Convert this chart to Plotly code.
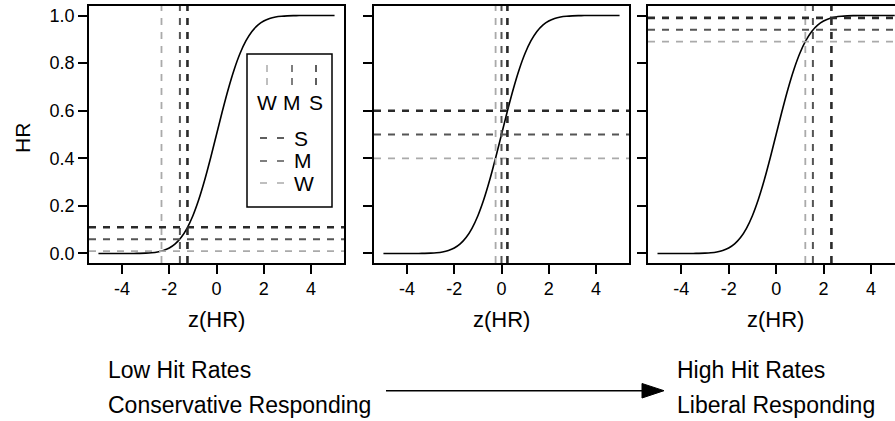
import plotly.graph_objects as go

# ---------------- data ----------------
z_grid = [-5, -4.75, -4.5, -4.25, -4, -3.75, -3.5, -3.25, -3, -2.75, -2.5, -2.25,
          -2, -1.75, -1.5, -1.25, -1, -0.75, -0.5, -0.25, 0,
          0.25, 0.5, 0.75, 1, 1.25, 1.5, 1.75, 2, 2.25, 2.5, 2.75,
          3, 3.25, 3.5, 3.75, 4, 4.25, 4.5, 4.75, 5]
hr_curve = [0.0, 0.0, 0.0, 0.0, 0.00003, 0.0001, 0.0002, 0.0006, 0.0013, 0.003, 0.0062, 0.0122,
            0.0228, 0.0401, 0.0668, 0.1056, 0.1587, 0.2266, 0.3085, 0.4013, 0.5,
            0.5987, 0.6915, 0.7734, 0.8413, 0.8944, 0.9332, 0.9599, 0.9772, 0.9878, 0.9938, 0.997,
            0.9987, 0.9994, 0.9998, 0.9999, 1.0, 1.0, 1.0, 1.0, 1.0]

conditions = ["W", "M", "S"]
# hit rates per panel (W, M, S)
hr_panel1 = [0.01, 0.06, 0.11]
hr_panel2 = [0.40, 0.50, 0.60]
hr_panel3 = [0.89, 0.94, 0.99]
# corresponding z(HR)
z_panel1 = [-2.33, -1.55, -1.23]
z_panel2 = [-0.25, 0.0, 0.25]
z_panel3 = [1.23, 1.55, 2.33]

x_tickvals = [-4, -2, 0, 2, 4]
x_ticktext = ["-4", "-2", "0", "2", "4"]
y_tickvals = [0.0, 0.2, 0.4, 0.6, 0.8, 1.0]
y_ticktext = ["0.0", "0.2", "0.4", "0.6", "0.8", "1.0"]

# ---------------- styling ----------------
W_, H_ = 895, 421
FONT = "Liberation Sans, Arial, Helvetica, sans-serif"
cond_color = {"W": "#aaaaaa", "M": "#555555", "S": "#2a2a2a"}
cond_width = {"W": 1.8, "M": 2.0, "S": 2.6}
DASH = "7px,7px"


def px(x):
    return x / W_


def py(y):
    return 1 - y / H_


panel_px = [(89, 344), (374, 629), (648, 895)]
panel_xrange = [[-5.4, 5.4], [-5.4, 5.4], [-5.4, 5.01]]
y_top, y_bot = 6, 263
yrange = [-0.04, 1.04]

fig = go.Figure()
panels = [(hr_panel1, z_panel1), (hr_panel2, z_panel2), (hr_panel3, z_panel3)]

for i, (hrs, zs) in enumerate(panels):
    n = "" if i == 0 else str(i + 1)
    xa, ya = "x" + n, "y" + n
    fig.add_trace(go.Scatter(x=z_grid, y=hr_curve, mode="lines",
                             line=dict(color="black", width=1.6, shape="spline"),
                             xaxis=xa, yaxis=ya, showlegend=False, hoverinfo="skip"))
    for c, hr, z in zip(conditions, hrs, zs):
        fig.add_shape(type="line", xref=xa + " domain", yref=ya, x0=0, x1=1, y0=hr, y1=hr,
                      line=dict(color=cond_color[c], width=cond_width[c], dash=DASH))
        fig.add_shape(type="line", xref=xa, yref=ya + " domain", x0=z, x1=z, y0=0, y1=1,
                      line=dict(color=cond_color[c], width=cond_width[c], dash=DASH))

    axis_common = dict(showgrid=False, zeroline=False, showline=True, linecolor="black",
                       linewidth=1.6, ticks="outside", ticklen=9, tickwidth=1.5,
                       tickcolor="black", tickfont=dict(family=FONT, size=18, color="black"))
    fig.layout["xaxis" + n] = dict(
        domain=[px(panel_px[i][0]), px(panel_px[i][1])], range=panel_xrange[i],
        anchor=ya, mirror=True, tickmode="array", tickvals=x_tickvals, ticktext=x_ticktext,
        **axis_common)
    fig.layout["yaxis" + n] = dict(
        domain=[py(y_bot), py(y_top)], range=yrange, anchor=xa,
        mirror=(i < 2), tickmode="array", tickvals=y_tickvals, ticktext=y_ticktext,
        showticklabels=(i == 0), **axis_common)

annots = []
# axis titles
for (a, b) in panel_px[:2] + [(648, 903)]:
    annots.append(dict(x=px((a + b) / 2), y=py(319), text="z(HR)", showarrow=False,
                       xref="paper", yref="paper", xanchor="center", yanchor="middle",
                       font=dict(family=FONT, size=22, color="black")))
annots.append(dict(x=px(22), y=py(138), text="HR", textangle=-90, showarrow=False,
                   xref="paper", yref="paper", xanchor="center", yanchor="middle",
                   font=dict(family=FONT, size=21, color="black")))

# legend box (drawn first, then its samples on top)
fig.add_shape(type="rect", xref="paper", yref="paper", x0=px(247), x1=px(332),
              y0=py(207), y1=py(54), line=dict(color="black", width=1.5),
              fillcolor="white", layer="above")
leg_x = {"W": 267, "M": 292, "S": 316}
for c in conditions:
    fig.add_shape(type="line", xref="paper", yref="paper", x0=px(leg_x[c]), x1=px(leg_x[c]),
                  y0=py(65), y1=py(86), layer="above",
                  line=dict(color=cond_color[c], width=1.5, dash="7px,6px"))
    annots.append(dict(x=px(leg_x[c]), y=py(102), text=c, showarrow=False,
                       xref="paper", yref="paper", xanchor="center", yanchor="middle",
                       font=dict(family=FONT, size=21, color="black")))
leg_y = {"S": 138, "M": 161, "W": 183}
for c in ["S", "M", "W"]:
    fig.add_shape(type="line", xref="paper", yref="paper", x0=px(260), x1=px(284),
                  y0=py(leg_y[c]), y1=py(leg_y[c]), layer="above",
                  line=dict(color=cond_color[c], width=1.5, dash="7px,10px"))
    annots.append(dict(x=px(292), y=py(leg_y[c]), text=c, showarrow=False,
                       xref="paper", yref="paper", xanchor="left", yanchor="middle",
                       font=dict(family=FONT, size=21, color="black")))

# bottom labels
for txt, x, y in [("Low Hit Rates", 106, 370), ("Conservative Responding", 106, 405),
                  ("High Hit Rates", 675, 370), ("Liberal Responding", 675, 405)]:
    annots.append(dict(x=px(x), y=py(y), text=txt, showarrow=False,
                       xref="paper", yref="paper", xanchor="left", yanchor="middle",
                       font=dict(family=FONT, size=23, color="black")))

# arrow
fig.add_shape(type="line", xref="paper", yref="paper", x0=px(386), x1=px(646),
              y0=py(390.7), y1=py(390.7), line=dict(color="black", width=1.6))
fig.add_shape(type="path", xref="paper", yref="paper",
              path=f"M {px(642)},{py(383.5)} L {px(664)},{py(390.7)} L {px(642)},{py(398)} Z",
              fillcolor="black", line=dict(color="black", width=1))

fig.update_layout(width=W_, height=H_, margin=dict(l=0, r=0, t=0, b=0),
                  paper_bgcolor="white", plot_bgcolor="white", annotations=annots,
                  showlegend=False, font=dict(family=FONT, color="black"))

fig.write_html("out.html", config={"displayModeBar": False},
               post_script="document.body.style.margin='0';document.body.style.overflow='hidden';")
